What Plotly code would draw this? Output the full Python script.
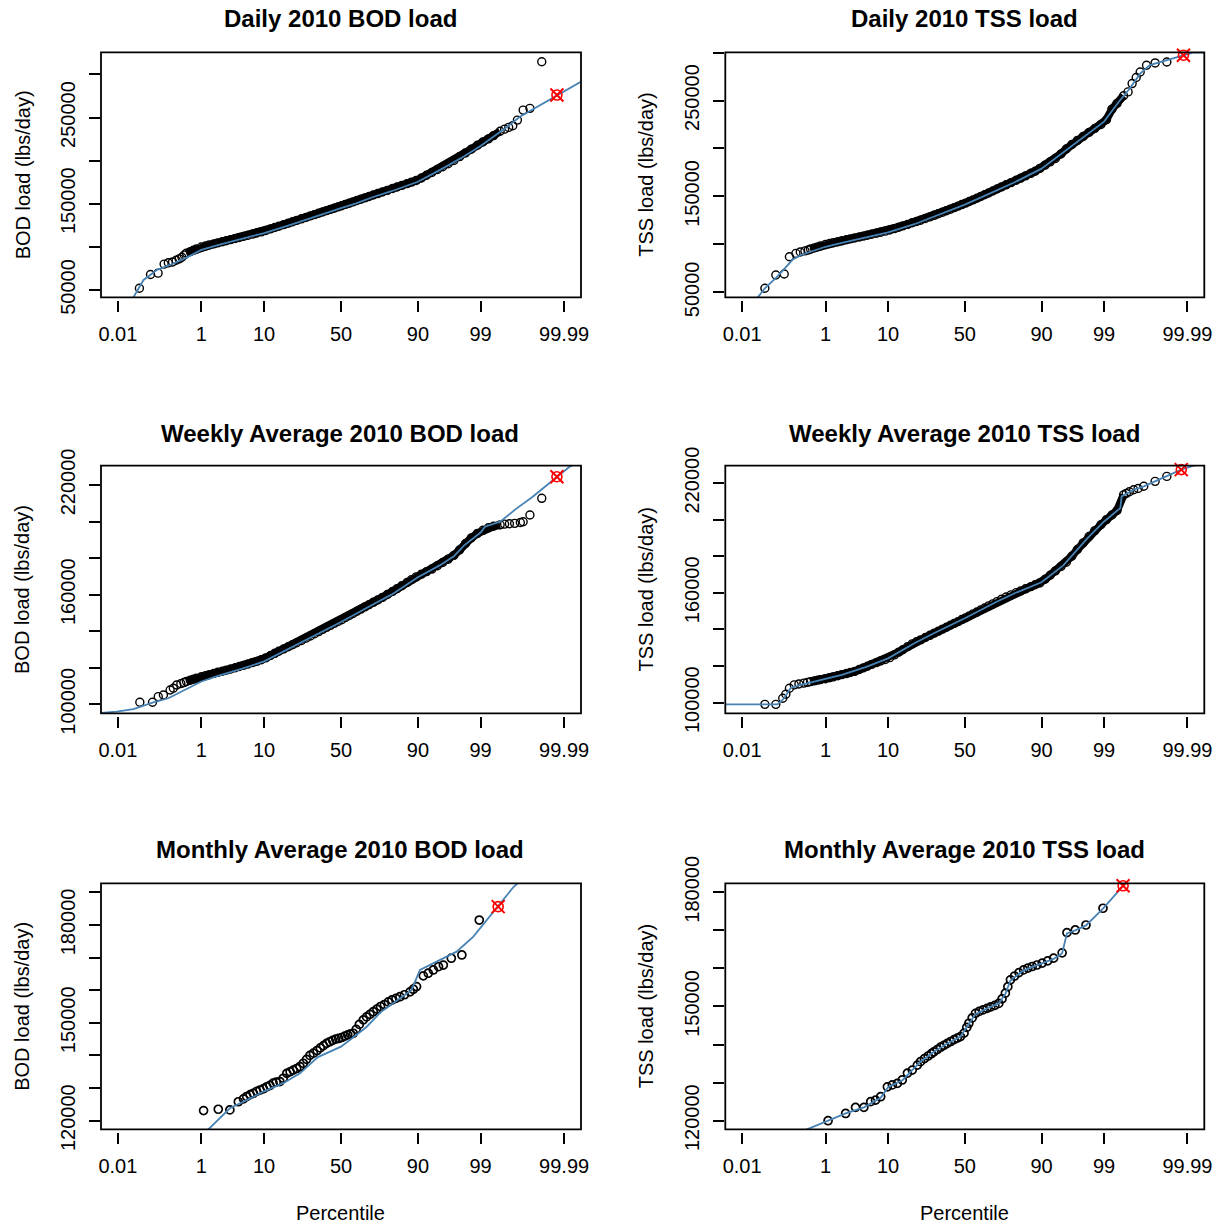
import plotly.graph_objects as go
from statistics import NormalDist

# ---------------- data ----------------
GRID_PCT = [0.5, 0.6, 0.7, 0.8, 1, 1.2, 1.4, 1.7, 2, 2.4, 2.8, 3.3, 3.9, 4.5, 5.2, 6, 7, 8, 9.2, 10.5,
            12, 13.5, 15, 17, 19, 21, 23, 25.5, 28, 30.5, 33, 35.5, 38, 40.5, 43, 45.5, 48, 50.5, 53, 55.5,
            58, 60.5, 63, 65.5, 68, 70.5, 73, 75.5, 78, 80.5, 82.5, 84.5, 86.5, 88, 89.5, 91, 92.3, 93.5, 94.6, 95.5,
            96.3, 97, 97.6, 98.1, 98.5, 98.85, 99.1, 99.3, 99.45, 99.6]

# Daily BOD
DBOD_GRID = [92700, 94500, 96200, 97500, 99800, 101000, 102100, 103400, 104600, 105900,
             107100, 108400, 109700, 110900, 112100, 113300, 114800, 116000, 117400, 119000,
             120800, 122400, 123900, 125800, 127500, 129100, 130700, 132500, 134200, 135900,
             137400, 139000, 140500, 142000, 143400, 144800, 146300, 147700, 149200, 150600,
             152100, 153700, 155200, 156800, 158400, 160100, 161800, 163600, 165500, 167600,
             169400, 171300, 173300, 175000, 176900, 179800, 183000, 186200, 189700, 192900,
             196300, 200200, 204600, 208900, 213200, 217800, 221700, 225200, 229000, 234000]
DBOD_LOW_PCT = [0.039, 0.075, 0.115, 0.16, 0.2, 0.25, 0.3, 0.35, 0.4, 0.45]
DBOD_LOW = [52000, 68000, 69500, 80000, 81500, 82500, 84500, 86000, 88000, 90500]
DBOD_HIGH_PCT = [99.68, 99.74, 99.79, 99.836, 99.88, 99.918, 99.959]
DBOD_HIGH = [236500, 238500, 240500, 247000, 258600, 260600, 314600]
DBOD_FIT_PCT = [0.025, 0.05, 0.107, 0.22, 0.5, 1, 2, 5, 10, 20, 30, 40, 50, 60, 70, 80, 90, 95, 97, 98,
                99, 99.5, 99.71, 99.857, 99.932, 99.984, 99.9968]
DBOD_FIT = [39000, 61600, 73200, 79000, 87500, 96500, 102000, 109500, 116000, 125500, 133000, 139500,
            145000, 150500, 157500, 164500, 175500, 189000, 198000, 205000, 217000, 229000, 238600,
            250900, 259800, 276000, 291400]
DBOD_DESIGN = [99.984, 276000]

# Daily TSS
DTSS_GRID = [95100, 96300, 97400, 98300, 99900, 100900, 101700, 102800, 103700, 104800,
             105700, 106700, 107700, 108600, 109500, 110500, 111600, 112700, 113800, 115000,
             116400, 117900, 119300, 120900, 122500, 123900, 125200, 127000, 128700, 130300,
             131900, 133500, 135100, 136700, 138300, 139900, 141500, 143000, 144700, 146400,
             148100, 149900, 151700, 153600, 155600, 157700, 159900, 162100, 164400, 166900,
             169000, 171400, 174100, 176300, 179200, 182600, 186000, 189600, 194400, 199500,
             204200, 208500, 212600, 216800, 220800, 225000, 230000, 241000, 247000, 255000]
DTSS_LOW_PCT = [0.042, 0.08, 0.128, 0.17, 0.24, 0.3, 0.38, 0.45]
DTSS_LOW = [54200, 68000, 69100, 87100, 90600, 92000, 93200, 94200]
DTSS_HIGH_PCT = [99.68, 99.74, 99.79, 99.83, 99.88, 99.926, 99.963]
DTSS_HIGH = [259000, 267700, 274000, 279800, 286800, 289200, 290200]
DTSS_FIT_PCT = [0.024, 0.042, 0.088, 0.2, 0.31, 0.5, 1, 2, 5, 10, 20, 30, 50, 70, 80, 90, 95, 97, 98,
                99, 99.3, 99.5, 99.7, 99.83, 99.9, 99.96, 99.987, 99.993, 99.9968]
DTSS_FIT = [42000, 54200, 66600, 83900, 88900, 92500, 97500, 101500, 107000, 112500, 121000, 128500,
            141500, 156000, 165000, 179000, 196000, 207000, 215000, 228000, 239000, 249000, 262000,
            278000, 287000, 291500, 297200, 300000, 300000]
DTSS_DESIGN = [99.987, 297200]

# Weekly BOD
WBOD_GRID = [112500, 113200, 113800, 114300, 115100, 115700, 116200, 116900, 117500, 118100,
             118700, 119300, 120000, 120700, 121300, 122000, 122800, 123500, 124400, 125400,
             126700, 127900, 129000, 130300, 131500, 132600, 133700, 134900, 136200, 137400,
             138600, 139800, 141000, 142100, 143200, 144300, 145300, 146300, 147500, 148600,
             149700, 150900, 152100, 153300, 154500, 155800, 157100, 158500, 160100, 161800,
             163300, 164900, 166700, 168200, 169700, 171200, 172600, 174000, 175800, 177600,
             179400, 181500, 184500, 188000, 191000, 193500, 195200, 196600, 197400, 198200]
WBOD_LOW_PCT = [0.04, 0.084, 0.116, 0.154, 0.22, 0.26, 0.31, 0.38, 0.44]
WBOD_LOW = [101100, 101100, 104200, 105100, 107800, 108800, 110600, 111300, 111900]
WBOD_HIGH_PCT = [99.68, 99.75, 99.81, 99.86, 99.88, 99.918, 99.959]
WBOD_HIGH = [198600, 198800, 199000, 199500, 199900, 203600, 212700]
WBOD_FIT_PCT = [0.0032, 0.0093, 0.027, 0.088, 0.2, 1, 2, 5, 10, 20, 30, 50, 70, 80, 90, 95, 97, 98, 99,
                99.18, 99.6, 99.83, 99.93, 99.984, 99.993, 99.9968]
WBOD_FIT = [95300, 96000, 97400, 101100, 103300, 112500, 115500, 119500, 123500, 131000, 136000, 145000,
            154500, 160000, 169500, 176000, 181000, 187000, 194000, 197200, 199900, 207200, 213600,
            224500, 230000, 233000]
WBOD_DESIGN = [99.984, 224500]

# Weekly TSS
WTSS_GRID = [111500, 111900, 112300, 112600, 113100, 113600, 114100, 114700, 115300, 115900,
             116500, 117100, 118100, 119000, 119900, 120900, 121900, 122800, 123600, 124600,
             126100, 127600, 128900, 130600, 132100, 133300, 134300, 135600, 136800, 138000,
             139100, 140200, 141200, 142300, 143300, 144300, 145400, 146300, 147400, 148500,
             149500, 150600, 151700, 152900, 154000, 155200, 156500, 157700, 158900, 160100,
             161100, 162200, 163400, 164400, 165400, 167400, 169600, 172000, 174400, 176700,
             180000, 183700, 187300, 190800, 194000, 197200, 200000, 202500, 205000, 213500]
WTSS_LOW_PCT = [0.042, 0.08, 0.118, 0.14, 0.17, 0.22, 0.28, 0.36, 0.43]
WTSS_LOW = [99100, 99100, 102400, 104600, 107900, 109700, 110200, 110700, 111100]
WTSS_HIGH_PCT = [99.65, 99.7, 99.76, 99.81, 99.86, 99.926, 99.963]
WTSS_HIGH = [214300, 215200, 216300, 217000, 218200, 220900, 223600]
WTSS_FIT_PCT = [0.0032, 0.088, 0.127, 0.18, 0.31, 1, 2, 5, 10, 20, 30, 50, 70, 80, 90, 95, 97, 98, 99,
                99.53, 99.56, 99.76, 99.86, 99.926, 99.963, 99.985, 99.993, 99.9968]
WTSS_FIT = [99100, 99100, 102400, 107900, 109700, 113000, 115200, 119600, 124200, 132500, 137800, 146100,
            155000, 159900, 165800, 175000, 183700, 190000, 199000, 206300, 212700, 216300, 218200,
            220900, 223600, 227300, 229300, 231000]
WTSS_DESIGN = [99.985, 227300]

# Monthly BOD
MBOD_PCT = [1.1, 2.04, 3.2, 4.35, 5.2, 5.8, 6.5, 7.2, 8, 8.85, 9.8, 10.8, 11.8, 12.9, 14, 15.4, 16.8, 18.3,
            19.8, 21.3, 23, 24.7, 26.5, 28.3, 30.2, 32.3, 34.5, 36.5, 38.5, 40.5, 42.5, 44.5, 46.5, 48.5,
            50.5, 52.5, 54.5, 56.3, 58.1, 60, 62, 64.5, 66.5, 68.5, 70.5, 72.5, 74.5, 76.5, 78.5, 80.2, 82,
            83.7, 85.5, 87.5, 88.6, 89.6, 91.5, 92.7, 93.8, 94.8, 95.6, 96.7, 97.8, 98.94]
MBOD = [123100, 123500, 123300, 125800, 126700, 127400, 128000, 128400, 129000, 129400, 129800, 130400,
        130800, 131500, 131800, 132000, 133000, 134500, 135000, 135500, 136000, 136600, 137600, 138800,
        140000, 140700, 141500, 142300, 143000, 143700, 144200, 144600, 145000, 145200, 145500, 145900,
        146300, 146600, 146800, 148000, 149500, 150900, 151800, 152600, 153400, 154200, 155000, 155600,
        156400, 157000, 157500, 158000, 158600, 159500, 160300, 161100, 164400, 165200, 166200, 167200,
        167700, 169800, 170800, 181500]
MBOD_FIT_PCT = [1.2, 3.2, 5.8, 10, 16.8, 24.7, 35, 50, 58, 66.6, 75, 83.7, 88, 90.6, 95, 97.3, 98.63,
                99.24, 99.56, 99.8, 99.9]
MBOD_FIT = [116500, 123800, 126300, 129000, 131500, 134500, 139500, 142700, 145500, 148800, 153500,
            157500, 160000, 166200, 169300, 171800, 176400, 181500, 185600, 191700, 195000]
MBOD_DESIGN = [99.56, 185600]

# Monthly TSS
MTSS_PCT = [1.12, 2.33, 3.4, 4.6, 5.8, 6.8, 8, 9.8, 11.3, 13, 14.8, 16.9, 19, 21.4, 23, 25, 27, 28.8,
            30.3, 32.3, 34.3, 36.4, 38.5, 40.7, 42.9, 45, 47.1, 49.5, 51.3, 52.7, 54.9, 57.1, 59.5, 62,
            64.5, 66.8, 69.2, 71.5, 73.3, 75.1, 76.4, 77.7, 79.7, 81.7, 83.7, 85.4, 87, 88.6, 90.2, 91.7,
            93.1, 94.8, 95.6, 96.75, 97.85, 98.95]
MTSS = [120000, 121900, 123500, 123500, 125000, 125400, 126300, 128900, 129400, 129800, 130700, 132500,
        133300, 134600, 135500, 136300, 137000, 137600, 138100, 138700, 139300, 139800, 140300, 140800,
        141300, 141700, 142100, 143000, 144500, 145600, 147000, 148200, 148700, 149100, 149500, 149900,
        150300, 150800, 152000, 153500, 155200, 157000, 158000, 158900, 159600, 160100, 160500, 160900,
        161400, 162000, 162700, 164100, 169400, 170100, 171400, 175800]
MTSS_FIT_PCT = [0.3, 1.12, 2.33, 4.6, 8, 10, 15, 19, 23, 30.3, 38.5, 47.1, 52.7, 57.1, 64.5, 71.5, 75.1,
                77.7, 83.7, 88.6, 93.1, 94.8, 95.6, 96.75, 97.85, 98.95, 99.59, 99.75]
MTSS_FIT = [117000, 120000, 121900, 123500, 126000, 128800, 130700, 133300, 135500, 138100, 140300,
            142100, 145400, 148000, 149500, 150800, 153300, 156800, 159500, 160800, 162500, 164000,
            169200, 170000, 171300, 175700, 181700, 184000]
MTSS_DESIGN = [99.59, 181700]

TITLES = ["Daily 2010 BOD load", "Daily 2010 TSS load",
          "Weekly Average 2010 BOD load", "Weekly Average 2010 TSS load",
          "Monthly Average 2010 BOD load", "Monthly Average 2010 TSS load"]
YTITLES = ["BOD load (lbs/day)", "TSS load (lbs/day)"] * 3
XTICK_PCT = [0.01, 1, 10, 50, 90, 99, 99.99]
XTICK_TEXT = ["0.01", "1", "10", "50", "90", "99", "99.99"]
YTICKS = [
    [50000, 100000, 150000, 200000, 250000, 300000],
    [50000, 100000, 150000, 200000, 250000, 300000],
    [100000, 120000, 140000, 160000, 180000, 200000, 220000],
    [100000, 120000, 140000, 160000, 180000, 200000, 220000],
    [120000, 130000, 140000, 150000, 160000, 170000, 180000, 190000],
    [120000, 130000, 140000, 150000, 160000, 170000, 180000],
]
YLABELED = [
    [50000, 150000, 250000], [50000, 150000, 250000],
    [100000, 160000, 220000], [100000, 160000, 220000],
    [120000, 150000, 180000], [120000, 150000, 180000],
]
YRANGES = [[41500, 325600], [44800, 300300], [95080, 230550], [94200, 229450],
           [117360, 192760], [117740, 182360]]

# ---------------- layout helpers ----------------
W, H = 1219, 1226
COLS = [(101, 581), (725.3, 1204.3)]
ROWS = [(52.3, 297.3), (465.7, 713.3), (883.3, 1129.3)]
TITLE_Y = [18, 433, 849]
COL_CENTER = [340, 964]
YTITLE_X = [22.5, 646]
FONT = "Liberation Sans, Arial, sans-serif"
BLUE = "#4682B4"

nd = NormalDist()


def zq(pcts):
    return [nd.inv_cdf(p / 100.0) for p in pcts]


PANELS = [
    (DBOD_LOW_PCT, DBOD_LOW, DBOD_GRID, DBOD_HIGH_PCT, DBOD_HIGH, DBOD_FIT_PCT, DBOD_FIT, DBOD_DESIGN),
    (DTSS_LOW_PCT, DTSS_LOW, DTSS_GRID, DTSS_HIGH_PCT, DTSS_HIGH, DTSS_FIT_PCT, DTSS_FIT, DTSS_DESIGN),
    (WBOD_LOW_PCT, WBOD_LOW, WBOD_GRID, WBOD_HIGH_PCT, WBOD_HIGH, WBOD_FIT_PCT, WBOD_FIT, WBOD_DESIGN),
    (WTSS_LOW_PCT, WTSS_LOW, WTSS_GRID, WTSS_HIGH_PCT, WTSS_HIGH, WTSS_FIT_PCT, WTSS_FIT, WTSS_DESIGN),
    (MBOD_PCT, MBOD, None, [], [], MBOD_FIT_PCT, MBOD_FIT, MBOD_DESIGN),
    (MTSS_PCT, MTSS, None, [], [], MTSS_FIT_PCT, MTSS_FIT, MTSS_DESIGN),
]

fig = go.Figure()
layout = dict(
    width=W, height=H, margin=dict(l=0, r=0, t=0, b=0, autoexpand=False),
    paper_bgcolor="white", plot_bgcolor="white", showlegend=False,
    font=dict(family=FONT, size=20, color="black"),
)
annotations = []
shapes = []

CIRCLE = dict(symbol="circle-open", size=8, color="black", line=dict(width=1.4, color="black"))
CIRCLE_M = dict(symbol="circle-open", size=8, color="black", line=dict(width=1.7, color="black"))

for i, (lpct, lval, grid, hpct, hval, fpct, fval, design) in enumerate(PANELS):
    r, c = divmod(i, 2)
    n = i + 1
    xa = "x" if n == 1 else f"x{n}"
    ya = "y" if n == 1 else f"y{n}"
    xl, xr = COLS[c]
    yt, yb = ROWS[r]

    # sparse observations (tails / monthly values)
    fig.add_trace(go.Scatter(
        x=zq(lpct + hpct), y=lval + hval, mode="markers", xaxis=xa, yaxis=ya,
        marker=CIRCLE if grid is not None else CIRCLE_M, hoverinfo="skip"))
    # densely overlapping observations in the body of the distribution
    if grid is not None:
        fig.add_trace(go.Scatter(
            x=zq(GRID_PCT), y=grid, mode="lines+markers", xaxis=xa, yaxis=ya,
            line=dict(color="black", width=8), marker=CIRCLE, hoverinfo="skip"))
    fig.add_trace(go.Scatter(
        x=zq(fpct), y=fval, mode="lines", xaxis=xa, yaxis=ya,
        line=dict(color=BLUE, width=1.8), hoverinfo="skip"))
    fig.add_trace(go.Scatter(
        x=zq([design[0]]), y=[design[1]], mode="markers", xaxis=xa, yaxis=ya,
        marker=dict(symbol="circle-open", size=10, color="red", line=dict(width=1.6, color="red")),
        cliponaxis=False, hoverinfo="skip"))
    fig.add_trace(go.Scatter(
        x=zq([design[0]]), y=[design[1]], mode="markers", xaxis=xa, yaxis=ya,
        marker=dict(symbol="x-thin-open", size=13, color="red", line=dict(width=2, color="red")),
        cliponaxis=False, hoverinfo="skip"))

    ydom = [1 - yb / H, 1 - yt / H]
    layout["xaxis" if n == 1 else f"xaxis{n}"] = dict(
        domain=[xl / W, xr / W], anchor="free", position=ydom[0] - 3 / H,
        range=[-4, 4], showline=False, showgrid=False, zeroline=False, automargin=False,
        tickmode="array", tickvals=zq(XTICK_PCT), ticktext=XTICK_TEXT,
        ticks="outside", ticklen=11, tickwidth=1.6, tickcolor="black",
        ticklabelstandoff=5, tickfont=dict(size=20, family=FONT, color="black"),
        fixedrange=True,
    )
    ticks = YTICKS[i]
    layout["yaxis" if n == 1 else f"yaxis{n}"] = dict(
        domain=ydom, anchor=xa, range=YRANGES[i], automargin=False,
        showline=False, showgrid=False, zeroline=False,
        tickmode="array", tickvals=ticks,
        ticktext=[str(t) if t in YLABELED[i] else "" for t in ticks],
        ticks="outside", ticklen=11, tickwidth=1.6, tickcolor="black",
        tickangle=-90, ticklabelstandoff=6,
        tickfont=dict(size=20, family=FONT, color="black"),
        fixedrange=True,
    )
    # plot box
    shapes.append(dict(type="rect", xref="paper", yref="paper",
                       x0=xl / W, x1=xr / W, y0=ydom[0], y1=ydom[1],
                       line=dict(color="black", width=1.8), layer="above"))
    annotations.append(dict(text=f"<b>{TITLES[i]}</b>", x=COL_CENTER[c] / W, y=1 - TITLE_Y[r] / H,
                            xref="paper", yref="paper", showarrow=False, xanchor="center", yanchor="middle",
                            font=dict(size=24, family=FONT, color="black")))
    annotations.append(dict(text=YTITLES[i], x=YTITLE_X[c] / W, y=1 - (yt + yb) / 2 / H,
                            xref="paper", yref="paper", showarrow=False, textangle=-90,
                            xanchor="center", yanchor="middle",
                            font=dict(size=20, family=FONT, color="black")))
    if r == 2:
        annotations.append(dict(text="Percentile", x=COL_CENTER[c] / W, y=1 - 1213 / H,
                                xref="paper", yref="paper", showarrow=False,
                                xanchor="center", yanchor="middle",
                                font=dict(size=20, family=FONT, color="black")))

layout["annotations"] = annotations
layout["shapes"] = shapes
fig.update_layout(**layout)
fig.write_html("out.html", config={"displayModeBar": False},
               post_script="document.body.style.margin='0px';")
